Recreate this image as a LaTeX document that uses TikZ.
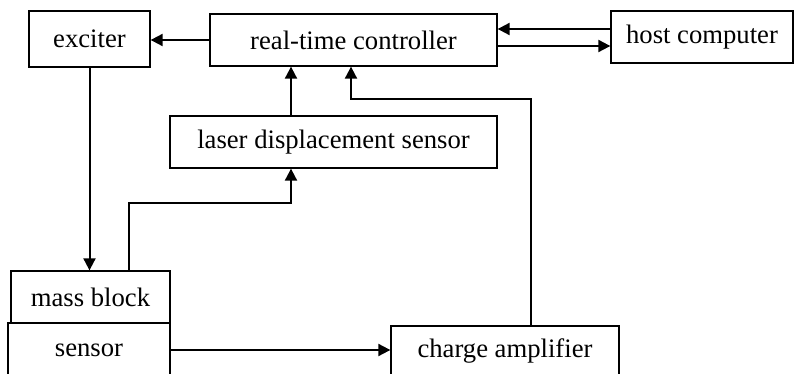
\documentclass[tikz,border=0pt]{standalone}
\usepackage{fontspec}
\setmainfont{Liberation Serif}
\usetikzlibrary{arrows.meta}
\begin{document}
\begin{tikzpicture}[x=0.75pt,y=-0.75pt,
  blk/.style={draw,line width=1pt,inner sep=0pt,align=center,font=\fontsize{20}{24}\selectfont},
  arr/.style={line width=1.5pt,-{Triangle[length=9pt,width=9pt]}}]
\useasboundingbox (0,0) rectangle (795,374);
\node[blk,minimum width=121*0.75pt,minimum height=56*0.75pt] (exc) at (89.5,39) {exciter};
\node[blk,minimum width=287*0.75pt,minimum height=52*0.75pt] (ctrl) at (353.5,40) {real-time controller};
\node[blk,minimum width=182*0.75pt,minimum height=52*0.75pt] (host) at (702,37) {host computer};
\node[blk,minimum width=327*0.75pt,minimum height=52*0.75pt] (laser) at (333.5,142) {laser displacement sensor};
\node[blk,minimum width=159*0.75pt,minimum height=52*0.75pt] (mass) at (90.5,297) {mass block};
\node[blk,minimum width=162*0.75pt,minimum height=54*0.75pt] (sens) at (89,350) {sensor};
\node[blk,minimum width=228*0.75pt,minimum height=50*0.75pt] (amp) at (505,351) {charge amplifier};
\coordinate (c1) at (291,0);
\coordinate (c2) at (351,0);
\coordinate (k1) at (129,203);
\coordinate (k2) at (531,99);
\draw[arr] (ctrl.west) -- (ctrl.west -| exc.east);
\draw[arr] ([yshift=6pt]host.west) -- ([yshift=6pt]host.west -| ctrl.east);
\draw[arr] ([yshift=-4.5pt]ctrl.east) -- ([yshift=-4.5pt]ctrl.east -| host.west);
\draw[arr] (exc.south) -- (exc.south |- mass.north);
\draw[arr] (k1 |- mass.north) -- (k1) -| (laser.south -| c1);
\draw[arr] (laser.north -| c1) -- (ctrl.south -| c1);
\draw[arr] (k2 |- amp.north) -- (k2) -| (ctrl.south -| c2);
\draw[arr] (sens.east) -- (sens.east -| amp.west);
\end{tikzpicture}
\end{document}
